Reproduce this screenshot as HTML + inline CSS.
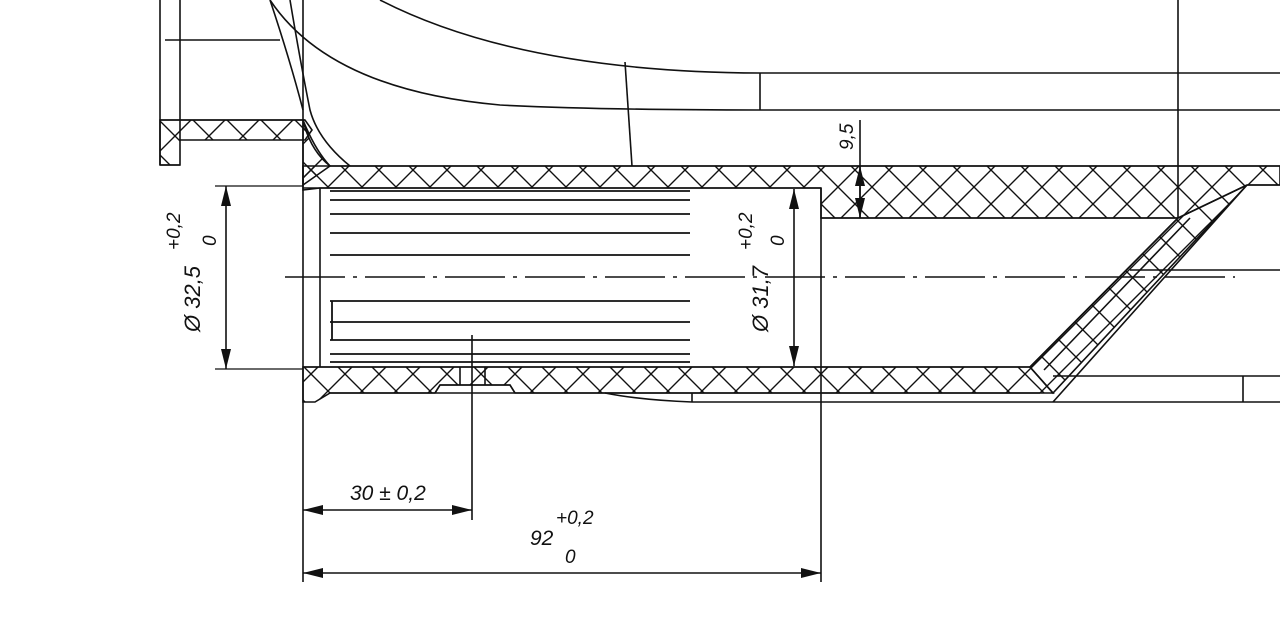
<!DOCTYPE html>
<html><head><meta charset="utf-8"><style>
html,body{margin:0;padding:0;background:#fff;width:1280px;height:642px;overflow:hidden}
text{font-family:"Liberation Sans",sans-serif;font-style:italic;fill:#111}
</style></head><body>
<svg width="1280" height="642" viewBox="0 0 1280 642" xmlns="http://www.w3.org/2000/svg">
<defs>
<pattern id="h" width="34" height="34" patternUnits="userSpaceOnUse" x="5" y="0">
<path d="M0 0L34 34M34 0L0 34M-5 29L5 39M29 -5L39 5M-5 5L5 -5M29 39L39 29" stroke="#111" stroke-width="1.4" fill="none"/>
</pattern>
<marker id="a" markerWidth="20" markerHeight="10" refX="20" refY="5" orient="auto" markerUnits="userSpaceOnUse">
<path d="M0 0L20 5L0 10Z" fill="#111"/></marker>
</defs>
<g stroke="#111" stroke-width="1.6" fill="none">
<path d="M303 166 L1280 166 L1280 185 L1247 185 L1178 218 L821 218 L821 188 L320 188 L303 190Z" fill="url(#h)"/>
<path d="M1178 218 L1247 185 L1053 393 L1030 367Z" fill="url(#h)"/>
<path d="M303 367 L1030 367 L1053 393 L515 393 L510 385 L440 385 L435 393 L330 393 L315 402 L303 402Z" fill="url(#h)"/>
<path d="M160 120 L305 120 L312 130 L305 140 L180 140 L180 165 L160 165Z" fill="url(#h)"/>
<path d="M303 120 Q310 150 330 166 L303 185Z" fill="url(#h)"/>
<line x1="303" y1="0" x2="303" y2="582"/>
<line x1="320" y1="188" x2="320" y2="367"/>
<line x1="330" y1="166" x2="1280" y2="166"/>
<line x1="303" y1="188" x2="821" y2="188"/>
<line x1="821" y1="188" x2="821" y2="582"/>
<line x1="821" y1="218" x2="1178" y2="218"/>
<line x1="1247" y1="185" x2="1280" y2="185"/>
<line x1="1178" y1="218" x2="1030" y2="367"/>
<line x1="1247" y1="185" x2="1053" y2="402"/>
<line x1="1190" y1="218" x2="1044" y2="370"/>
<line x1="1130" y1="270" x2="1280" y2="270"/>
<line x1="303" y1="367" x2="1030" y2="367"/>
<line x1="1053" y1="376" x2="1280" y2="376"/>
<line x1="1243" y1="376" x2="1243" y2="402"/>
<line x1="330" y1="393" x2="1040" y2="393"/>
<line x1="692" y1="402" x2="1280" y2="402"/>
<line x1="692" y1="393" x2="692" y2="402"/>
<path d="M605 393 Q640 400 692 402"/>
<path d="M435 393 L440 385 L510 385 L515 393"/>
<line x1="460" y1="367" x2="460" y2="385"/><line x1="485" y1="367" x2="485" y2="385"/>
<path d="M380 0 Q520 72 760 73 L1280 73"/>
<path d="M270 0 Q330 90 500 105 Q600 110 760 110 L1280 110"/>
<line x1="760" y1="73" x2="760" y2="110"/>
<line x1="625" y1="62" x2="632" y2="166"/>
<line x1="1178" y1="0" x2="1178" y2="218"/>
<line x1="160" y1="0" x2="160" y2="165"/>
<line x1="180" y1="0" x2="180" y2="140"/>
<line x1="165" y1="40" x2="280" y2="40"/>
<path d="M160 165 L180 165"/>
<path d="M160 120 L305 120"/>
<path d="M270 0 Q290 60 303 110"/>
<path d="M290 0 Q300 60 310 110 Q318 140 350 166"/>
<path d="M303 120 Q315 150 330 166"/>
<g stroke-width="1.8">
<line x1="330" y1="191" x2="690" y2="191"/>
<line x1="330" y1="200" x2="690" y2="200"/>
<line x1="330" y1="214" x2="690" y2="214"/>
<line x1="330" y1="233" x2="690" y2="233"/>
<line x1="330" y1="255" x2="690" y2="255"/>
<line x1="330" y1="301" x2="690" y2="301"/>
<line x1="330" y1="322" x2="690" y2="322"/>
<line x1="330" y1="340" x2="690" y2="340"/>
<line x1="330" y1="354" x2="690" y2="354"/>
<line x1="330" y1="362" x2="690" y2="362"/>
<line x1="332" y1="301" x2="332" y2="340"/>
</g>
<line x1="285" y1="277" x2="1235" y2="277" stroke-dasharray="60 8 4 8" stroke-width="1.4"/>
<line x1="215" y1="186" x2="303" y2="186" stroke-width="1.2"/>
<line x1="215" y1="369" x2="303" y2="369" stroke-width="1.2"/>
<line x1="226" y1="277" x2="226" y2="186" marker-end="url(#a)"/>
<line x1="226" y1="277" x2="226" y2="369" marker-end="url(#a)"/>
<line x1="794" y1="277" x2="794" y2="189" marker-end="url(#a)"/>
<line x1="794" y1="277" x2="794" y2="366" marker-end="url(#a)"/>
<line x1="860" y1="120" x2="860" y2="218"/>
<line x1="860" y1="192" x2="860" y2="166" marker-end="url(#a)"/>
<line x1="860" y1="192" x2="860" y2="218" marker-end="url(#a)"/>
<line x1="472" y1="335" x2="472" y2="520"/>
<line x1="388" y1="510" x2="303" y2="510" marker-end="url(#a)"/>
<line x1="388" y1="510" x2="472" y2="510" marker-end="url(#a)"/>
<line x1="560" y1="573" x2="303" y2="573" marker-end="url(#a)"/>
<line x1="560" y1="573" x2="821" y2="573" marker-end="url(#a)"/>
</g>
<g font-size="22">
<text transform="translate(200,332) rotate(-90)">Ø 32,5</text>
<text transform="translate(180,250) rotate(-90)" font-size="19">+0,2</text>
<text transform="translate(216,246) rotate(-90)" font-size="19">0</text>
<text transform="translate(768,332) rotate(-90)">Ø 31,7</text>
<text transform="translate(752,250) rotate(-90)" font-size="19">+0,2</text>
<text transform="translate(784,246) rotate(-90)" font-size="19">0</text>
<text transform="translate(853,150) rotate(-90)" font-size="19">9,5</text>
<text x="350" y="500" font-size="21">30 ± 0,2</text>
<text x="530" y="545" font-size="21">92</text>
<text x="556" y="524" font-size="19">+0,2</text>
<text x="565" y="563" font-size="19">0</text>
</g>
</svg>
</body></html>
